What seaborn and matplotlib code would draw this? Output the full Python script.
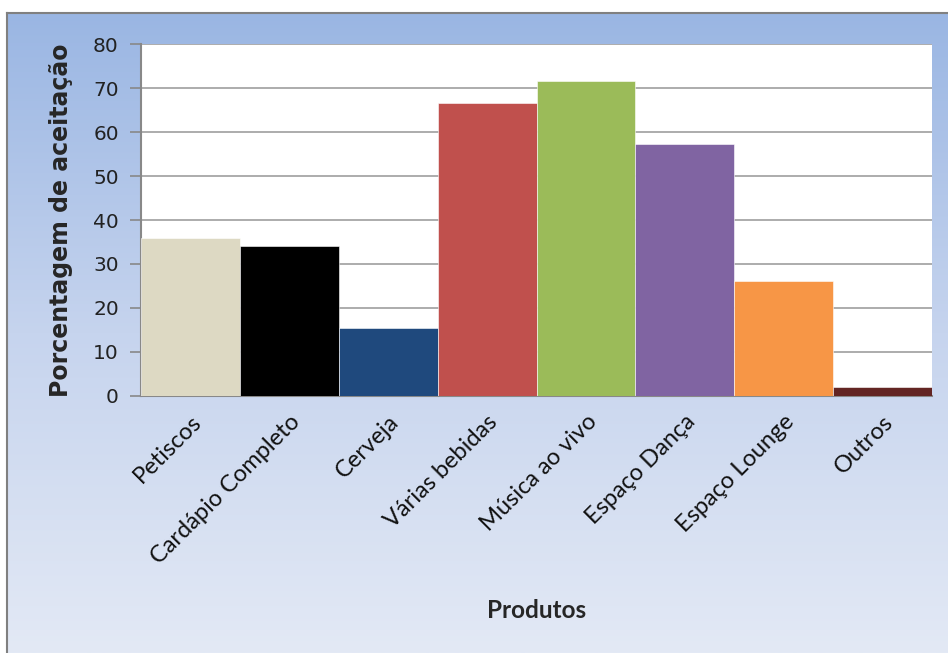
import numpy as np
import pandas as pd
import matplotlib
matplotlib.use("Agg")
import matplotlib.pyplot as plt
from matplotlib.colors import LinearSegmentedColormap
import seaborn as sns

# Survey data: acceptance per product/service
produtos = ["Petiscos", "Cardápio Completo", "Cerveja", "Várias bebidas",
            "Música ao vivo", "Espaço Dança", "Espaço Lounge", "Outros"]
aceitacao = [36.0, 34.0, 15.5, 66.7, 71.6, 57.3, 26.0, 2.0]
cores = ["#ddd9c3", "#000000", "#1f497d", "#c0504d",
         "#9bbb59", "#8064a2", "#f79646", "#632523"]
yticks = [0, 10, 20, 30, 40, 50, 60, 70, 80]

df = pd.DataFrame({"Produtos": produtos, "Aceitacao": aceitacao})

sns.set_style("white")
plt.rcParams["font.family"] = ["Lato", "DejaVu Sans"]

W, H = 948, 653
fig = plt.figure(figsize=(W / 100, H / 100), dpi=100)
fig.patch.set_facecolor("white")

# Gradient backdrop of the chart frame
bg = fig.add_axes([7 / W, 0, 1 - 7 / W, (H - 13) / H], zorder=0)
grad = np.linspace(0, 1, 256).reshape(-1, 1)
cmap = LinearSegmentedColormap.from_list("frame", ["#9ab6e3", "#c6d4ee", "#e3e9f5"])
bg.imshow(grad, aspect="auto", cmap=cmap, extent=[0, 1, 0, 1], origin="upper")
bg.set_xticks([])
bg.set_yticks([])
for side in ["right", "bottom"]:
    bg.spines[side].set_visible(False)
for side in ["left", "top"]:
    bg.spines[side].set_color("#808080")
    bg.spines[side].set_linewidth(1.5)

ax = fig.add_axes([141 / W, 1 - 395.7 / H, (932 - 141) / W, (395.7 - 44.3) / H], zorder=1)
ax.set_facecolor("white")
sns.barplot(data=df, x="Produtos", y="Aceitacao", hue="Produtos", palette=cores,
            width=1.0, dodge=False, legend=False, ax=ax, saturation=1,
            edgecolor="#ffffff", linewidth=0.4, zorder=3)

ax.set_ylim(0, 80)
ax.set_xlim(-0.5, len(produtos) - 0.5)
ax.set_yticks(yticks)
ax.set_yticklabels([str(t) for t in yticks], fontsize=14.5, color="#222222",
                   family=["DejaVu Sans"])
ax.yaxis.grid(True, color="#a6a6a6", linewidth=1.3, zorder=0)
ax.set_axisbelow(True)
ax.tick_params(axis="y", length=8, width=1.2, color="#888888", pad=8, left=True)
ax.tick_params(axis="x", length=0, pad=11)
ax.set_xticks(range(len(produtos)))
ax.set_xticklabels(produtos, rotation=45, ha="right", rotation_mode="anchor",
                   fontsize=17, color="#111111")
for side in ["top", "right"]:
    ax.spines[side].set_visible(False)
for side in ["left", "bottom"]:
    ax.spines[side].set_visible(True)
    ax.spines[side].set_color("#888888")
    ax.spines[side].set_linewidth(1.5)

ax.set_xlabel("Produtos", fontsize=17.5, fontweight="bold")
ax.set_ylabel("Porcentagem de aceitação", fontsize=17, fontweight="bold",
              family=["DejaVu Sans"])
ax.xaxis.set_label_coords(0.5, -0.578)
ax.yaxis.set_label_coords(-0.086, 0.5)

fig.savefig("out.png", dpi=100)
